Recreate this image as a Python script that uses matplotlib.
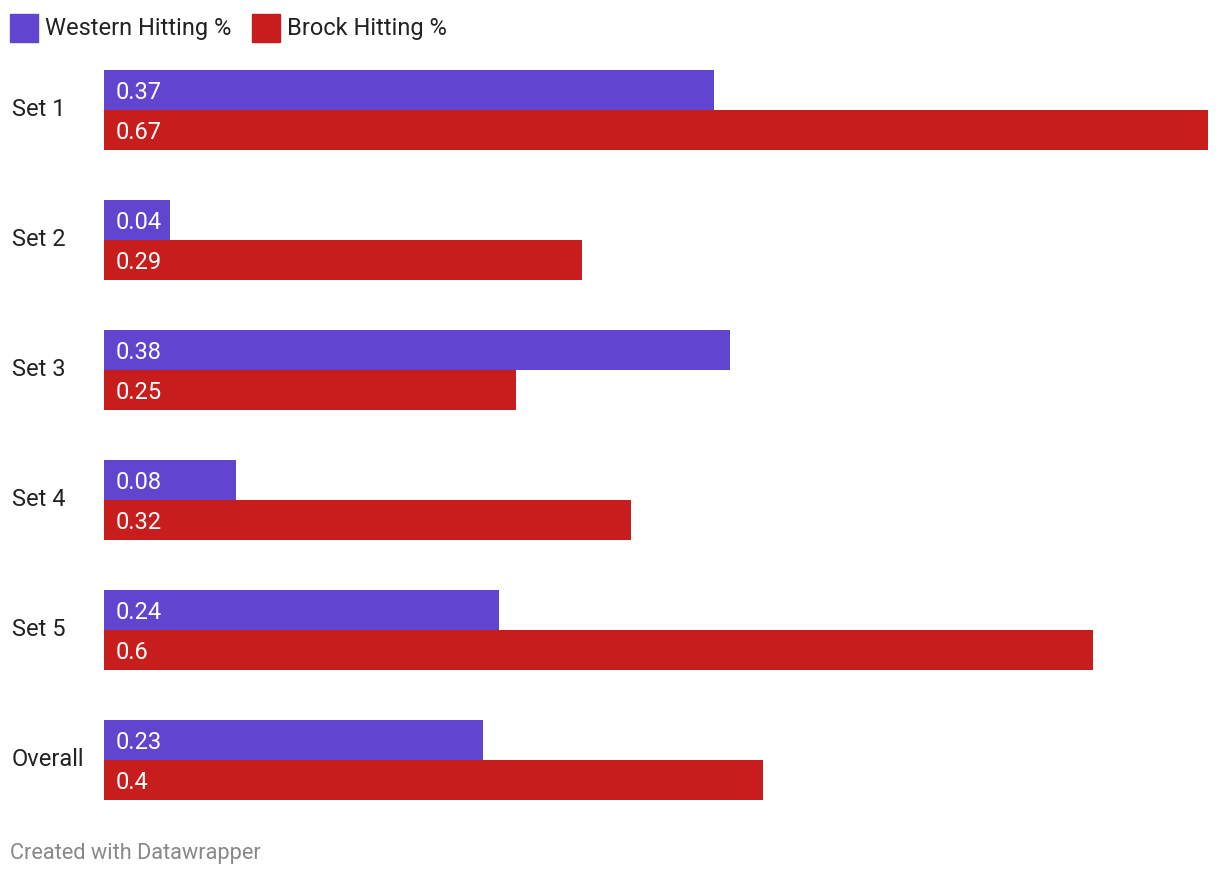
import matplotlib.pyplot as plt

categories = ["Set 1", "Set 2", "Set 3", "Set 4", "Set 5", "Overall"]
western = [0.37, 0.04, 0.38, 0.08, 0.24, 0.23]
brock = [0.67, 0.29, 0.25, 0.32, 0.6, 0.4]
series_names = ["Western Hitting %", "Brock Hitting %"]

PURPLE = "#6145cf"
RED = "#c71e1d"

plt.rcParams['font.family'] = ['Roboto', 'DejaVu Sans']

W, H = 1220, 876
fig = plt.figure(figsize=(W / 100, H / 100), dpi=100)

# axes placed in pixel terms: bars span x 104..1208, y 70..800
ax = fig.add_axes([104 / W, 1 - 800 / H, (1208 - 104) / W, (800 - 70) / H])
bh = 40 / 130
ys = list(range(len(categories)))
ax.barh([y - bh / 2 for y in ys], western, height=bh, color=PURPLE)
ax.barh([y + bh / 2 for y in ys], brock, height=bh, color=RED)
ax.set_xlim(0, max(brock))
ax.set_ylim(len(categories) - 1 + bh, -bh)
ax.axis("off")

dy = 0.02
for y, w, b in zip(ys, western, brock):
    ax.text(0.0068, y - bh / 2 + dy, f"{w:g}", color="white", fontsize=17,
            va="center", ha="left")
    ax.text(0.0068, y + bh / 2 + dy, f"{b:g}", color="white", fontsize=17,
            va="center", ha="left")
    fig.text(12 / W, 1 - (70 + 130 * y + 39) / H, categories[y], fontsize=17,
             color="#222222", va="center", ha="left")

# legend
for x0, name, col in [(10, series_names[0], PURPLE), (252, series_names[1], RED)]:
    fig.patches.append(plt.Rectangle((x0 / W, 1 - 42 / H), 28 / W, 28 / H,
                                     transform=fig.transFigure, color=col))
    fig.text((x0 + 35) / W, 1 - 29 / H, name, fontsize=17, color="#222222",
             va="center", ha="left")

fig.text(10 / W, 1 - 853 / H, "Created with Datawrapper", fontsize=15.7,
         color="#888888", va="center", ha="left")

fig.savefig("out.png", dpi=100, facecolor="white")
